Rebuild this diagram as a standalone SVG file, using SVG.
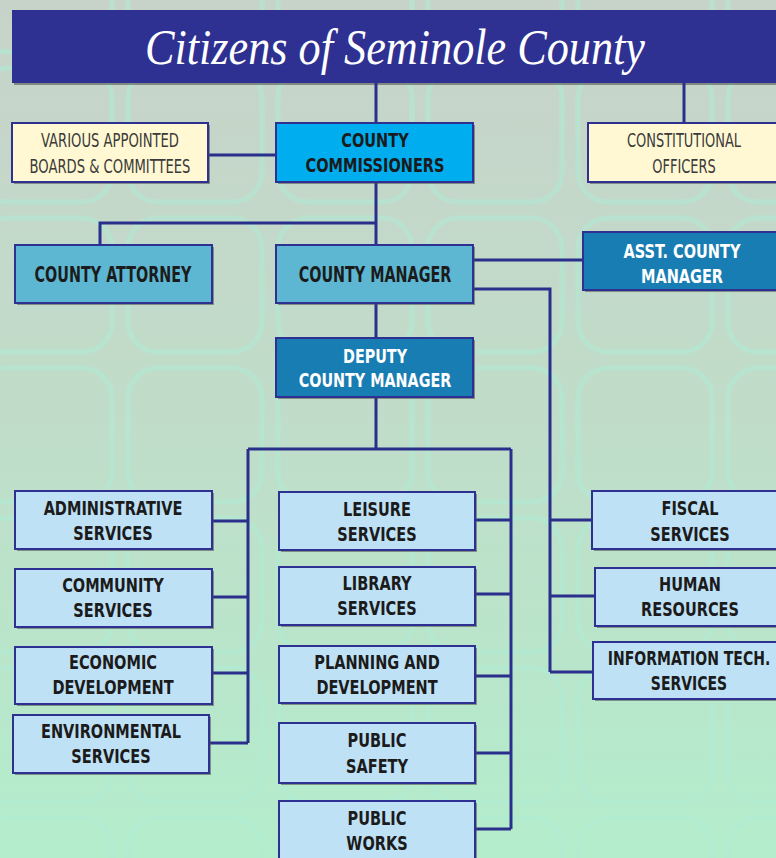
<svg xmlns="http://www.w3.org/2000/svg" width="776" height="858" viewBox="0 0 776 858">
<defs>
<linearGradient id="bg" x1="0" y1="0" x2="0" y2="1">
<stop offset="0" stop-color="#C7D3C9"/>
<stop offset="0.5" stop-color="#C0DDC9"/>
<stop offset="1" stop-color="#B3EDCC"/>
</linearGradient>
<pattern id="tiles" x="-30" y="60" width="150" height="150" patternUnits="userSpaceOnUse">
<rect x="8" y="8" width="134" height="134" rx="30" fill="none" stroke="#AEEBD2" stroke-width="5" opacity="0.55"/>
</pattern>
</defs>
<style>
.shadow{fill:#4a4a4a;opacity:0.55}
.box{stroke:#2E3192;stroke-width:2}
.cream{fill:#FFF8D2}
.bright{fill:#00AEEF}
.mid{fill:#5DB7D2}
.dark{fill:#187DB2}
.light{fill:#BFE1F6}
.t{font-family:"Liberation Sans Narrow","DejaVu Sans Condensed","Liberation Sans",sans-serif;font-size:19px;font-weight:bold;fill:#1b1b1b;text-anchor:middle}
.thin{font-weight:normal;fill:#3a3a3a;font-size:19px}
.w{fill:#ffffff}
.big{font-size:21px}
.conn{fill:none;stroke:#2B2F8C;stroke-width:3}
</style>
<rect width="776" height="858" fill="url(#bg)"/>
<rect width="776" height="858" fill="url(#tiles)"/>

<g id="title">
<rect x="14" y="12" width="766" height="73" class="shadow"/>
<rect x="12" y="10" width="770" height="73" fill="#2E3192"/>
<text x="395" y="64" font-family="'Liberation Serif',serif" font-style="italic" font-size="50" fill="#ffffff" text-anchor="middle" textLength="500" lengthAdjust="spacingAndGlyphs">Citizens of Seminole County</text>
</g>

<g id="connectors" class="conn">
<path d="M376,83 V123"/>
<path d="M684,83 V123"/>
<path d="M208,155 H276"/>
<path d="M376,182 V245"/>
<path d="M376,223 H100 V245"/>
<path d="M473,260 H583"/>
<path d="M376,303 V338"/>
<path d="M376,397 V449"/>
<path d="M248,449 H511"/>
<path d="M248,449 V743"/>
<path d="M212,521 H248"/>
<path d="M212,597 H248"/>
<path d="M212,673 H248"/>
<path d="M209,743 H248"/>
<path d="M511,449 V829"/>
<path d="M475,520 H511"/>
<path d="M475,594 H511"/>
<path d="M475,676 H511"/>
<path d="M475,753 H511"/>
<path d="M475,829 H511"/>
<path d="M473,289 H550 V672"/>
<path d="M550,520 H592"/>
<path d="M550,596 H595"/>
<path d="M550,672 H593"/>
</g>

<g id="boards">
<rect x="14" y="125" width="196" height="59" class="shadow"/>
<rect x="12" y="123" width="196" height="59" class="box cream"/>
<g transform="translate(110,0) scale(0.77,1)">
<text class="t thin" x="0" y="147">VARIOUS APPOINTED</text>
<text class="t thin" x="0" y="173">BOARDS &amp; COMMITTEES</text>
</g>
</g>

<g id="commissioners">
<rect x="278" y="125" width="197" height="59" class="shadow"/>
<rect x="276" y="123" width="197" height="59" class="box bright"/>
<g transform="translate(375,0) scale(0.85,1)">
<text class="t" x="0" y="147">COUNTY</text>
<text class="t" x="0" y="172">COMMISSIONERS</text>
</g>
</g>

<g id="constitutional">
<rect x="590" y="125" width="200" height="59" class="shadow"/>
<rect x="588" y="123" width="200" height="59" class="box cream"/>
<g transform="translate(684,0) scale(0.76,1)">
<text class="t thin" x="0" y="147">CONSTITUTIONAL</text>
<text class="t thin" x="0" y="173">OFFICERS</text>
</g>
</g>

<g id="attorney">
<rect x="17" y="247" width="197" height="58" class="shadow"/>
<rect x="15" y="245" width="197" height="58" class="box mid"/>
<g transform="translate(113,0) scale(0.76,1)">
<text class="t big" x="0" y="282">COUNTY ATTORNEY</text>
</g>
</g>

<g id="manager">
<rect x="278" y="247" width="197" height="58" class="shadow"/>
<rect x="276" y="245" width="197" height="58" class="box mid"/>
<g transform="translate(375,0) scale(0.76,1)">
<text class="t big" x="0" y="282">COUNTY MANAGER</text>
</g>
</g>

<g id="asst">
<rect x="585" y="234" width="200" height="58" class="shadow"/>
<rect x="583" y="232" width="200" height="58" class="box dark"/>
<g transform="translate(682,0) scale(0.85,1)">
<text class="t w" x="0" y="258">ASST. COUNTY</text>
<text class="t w" x="0" y="283">MANAGER</text>
</g>
</g>

<g id="deputy">
<rect x="278" y="340" width="197" height="59" class="shadow"/>
<rect x="276" y="338" width="197" height="59" class="box dark"/>
<g transform="translate(375,0) scale(0.84,1)">
<text class="t w" x="0" y="363">DEPUTY</text>
<text class="t w" x="0" y="387">COUNTY MANAGER</text>
</g>
</g>

<g id="admin">
<rect x="17" y="493" width="197" height="58" class="shadow"/>
<rect x="15" y="491" width="197" height="58" class="box light"/>
<g transform="translate(113,0) scale(0.85,1)">
<text class="t" x="0" y="515">ADMINISTRATIVE</text>
<text class="t" x="0" y="540">SERVICES</text>
</g>
</g>

<g id="community">
<rect x="17" y="571" width="197" height="58" class="shadow"/>
<rect x="15" y="569" width="197" height="58" class="box light"/>
<g transform="translate(113,0) scale(0.85,1)">
<text class="t" x="0" y="592">COMMUNITY</text>
<text class="t" x="0" y="617">SERVICES</text>
</g>
</g>

<g id="economic">
<rect x="17" y="649" width="197" height="57" class="shadow"/>
<rect x="15" y="647" width="197" height="57" class="box light"/>
<g transform="translate(113,0) scale(0.85,1)">
<text class="t" x="0" y="669">ECONOMIC</text>
<text class="t" x="0" y="694">DEVELOPMENT</text>
</g>
</g>

<g id="environmental">
<rect x="15" y="717" width="196" height="58" class="shadow"/>
<rect x="13" y="715" width="196" height="58" class="box light"/>
<g transform="translate(111,0) scale(0.85,1)">
<text class="t" x="0" y="738">ENVIRONMENTAL</text>
<text class="t" x="0" y="763">SERVICES</text>
</g>
</g>

<g id="leisure">
<rect x="281" y="494" width="196" height="58" class="shadow"/>
<rect x="279" y="492" width="196" height="58" class="box light"/>
<g transform="translate(377,0) scale(0.85,1)">
<text class="t" x="0" y="516">LEISURE</text>
<text class="t" x="0" y="541">SERVICES</text>
</g>
</g>

<g id="library">
<rect x="281" y="569" width="196" height="58" class="shadow"/>
<rect x="279" y="567" width="196" height="58" class="box light"/>
<g transform="translate(377,0) scale(0.85,1)">
<text class="t" x="0" y="590">LIBRARY</text>
<text class="t" x="0" y="615">SERVICES</text>
</g>
</g>

<g id="planning">
<rect x="281" y="648" width="196" height="57" class="shadow"/>
<rect x="279" y="646" width="196" height="57" class="box light"/>
<g transform="translate(377,0) scale(0.85,1)">
<text class="t" x="0" y="669">PLANNING AND</text>
<text class="t" x="0" y="694">DEVELOPMENT</text>
</g>
</g>

<g id="safety">
<rect x="281" y="725" width="196" height="60" class="shadow"/>
<rect x="279" y="723" width="196" height="60" class="box light"/>
<g transform="translate(377,0) scale(0.85,1)">
<text class="t" x="0" y="747">PUBLIC</text>
<text class="t" x="0" y="773">SAFETY</text>
</g>
</g>

<g id="works">
<rect x="281" y="803" width="196" height="70" class="shadow"/>
<rect x="279" y="801" width="196" height="70" class="box light"/>
<g transform="translate(377,0) scale(0.85,1)">
<text class="t" x="0" y="825">PUBLIC</text>
<text class="t" x="0" y="850">WORKS</text>
</g>
</g>

<g id="fiscal">
<rect x="594" y="493" width="200" height="58" class="shadow"/>
<rect x="592" y="491" width="200" height="58" class="box light"/>
<g transform="translate(690,0) scale(0.85,1)">
<text class="t" x="0" y="515">FISCAL</text>
<text class="t" x="0" y="541">SERVICES</text>
</g>
</g>

<g id="human">
<rect x="597" y="570" width="200" height="58" class="shadow"/>
<rect x="595" y="568" width="200" height="58" class="box light"/>
<g transform="translate(690,0) scale(0.85,1)">
<text class="t" x="0" y="591">HUMAN</text>
<text class="t" x="0" y="616">RESOURCES</text>
</g>
</g>

<g id="infotech">
<rect x="595" y="644" width="200" height="57" class="shadow"/>
<rect x="593" y="642" width="200" height="57" class="box light"/>
<g transform="translate(689,0) scale(0.82,1)">
<text class="t" x="0" y="665">INFORMATION TECH.</text>
<text class="t" x="0" y="690">SERVICES</text>
</g>
</g>
</svg>
